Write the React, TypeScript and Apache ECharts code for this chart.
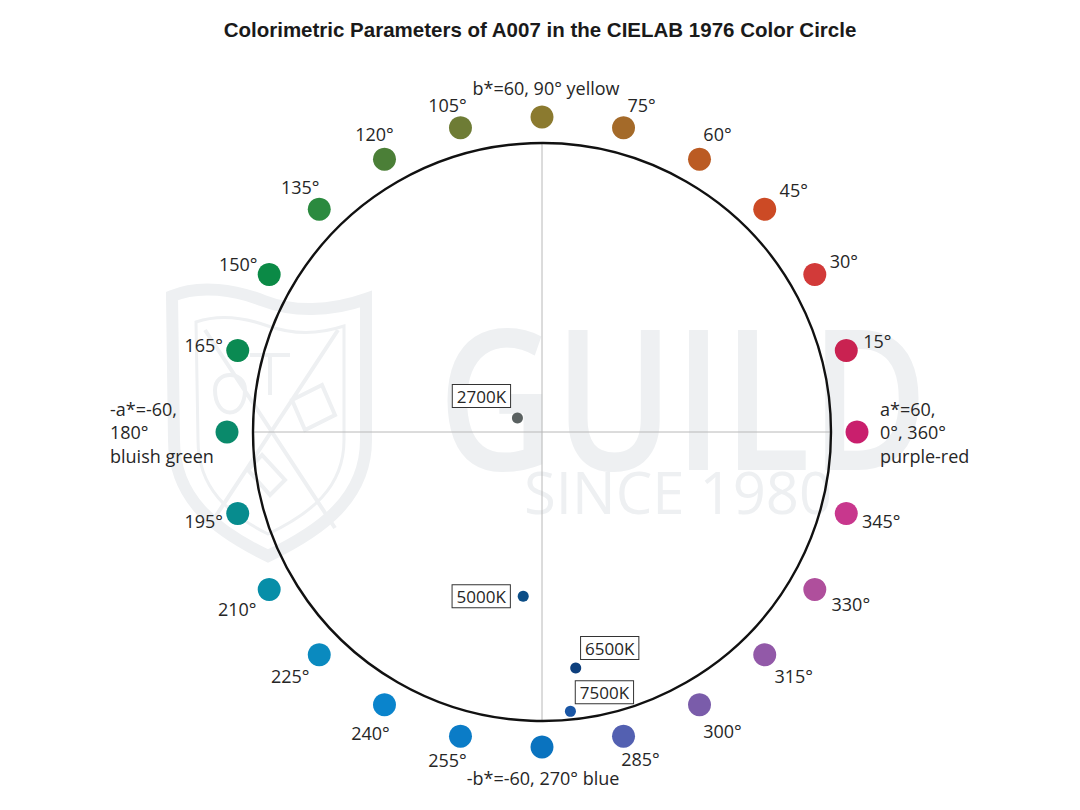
import React, { useEffect, useRef } from 'react';
import * as echarts from 'echarts';

// ---------- data ----------
const titleText = 'Colorimetric Parameters of A007 in the CIELAB 1976 Color Circle';

const hueAngles = [0, 15, 30, 45, 60, 75, 90, 105, 120, 135, 150, 165, 180, 195, 210, 225, 240, 255, 270, 285, 300, 315, 330, 345];
const hueColors = [
  '#c91f6d', '#c92251', '#d23a39', '#cc4a25', '#bb5b23', '#a46a29', '#8b7a2f', '#6e7c35',
  '#4b7f37', '#2b8a3f', '#0b8a46', '#0a8a52', '#0a8a6b', '#078c8e', '#078ea8', '#0a8abf',
  '#0a84cc', '#0b7cc7', '#0a73bf', '#5360b1', '#7a5caa', '#9259a8', '#af4f9c', '#c8378d',
];
const hueLabels = [
  'a*=60,\n0°, 360°\npurple-red', '15°', '30°', '45°', '60°', '75°', 'b*=60, 90° yellow', '105°',
  '120°', '135°', '150°', '165°', '-a*=-60,\n180°\nbluish green', '195°', '210°', '225°',
  '240°', '255°', '-b*=-60, 270° blue', '285°', '300°', '315°', '330°', '345°',
];

const cctNames = ['2700K', '5000K', '6500K', '7500K'];
const cctA = [-5.1, -3.9, 7.0, 5.9];
const cctB = [2.9, -34.1, -49.0, -58.0];
const cctColors = ['#5a6161', '#0b4d86', '#0d3f7d', '#1a56a5'];

const circleValue = 60;

// ---------- layout ----------
const CX = 542;
const CY = 432;
const PX_PER_UNIT = 289 / 60;
const CART_MAX = 75;
const POLAR_MAX = 80;
const DOT_R = 65.4;

// label offsets (px) relative to each hue dot, keyed by angle
const hueLabelLayout: Record<number, any> = {
  0: { offset: [23, 0], align: 'left' },
  15: { offset: [31, -9] },
  30: { offset: [29, -13] },
  45: { offset: [29, -19] },
  60: { offset: [18, -25] },
  75: { offset: [18, -23] },
  90: { offset: [4, -29] },
  105: { offset: [-13, -23] },
  120: { offset: [-10, -25] },
  135: { offset: [-19, -22] },
  150: { offset: [-31, -10] },
  165: { offset: [-34, -5] },
  180: { offset: [-117, 0], align: 'left' },
  195: { offset: [-34, 7] },
  210: { offset: [-32, 19] },
  225: { offset: [-29, 21] },
  240: { offset: [-14, 28] },
  255: { offset: [-13, 24] },
  270: { offset: [1, 31] },
  285: { offset: [17, 23] },
  300: { offset: [23, 26] },
  315: { offset: [29, 21] },
  330: { offset: [36, 14] },
  345: { offset: [35, 7] },
};

const cctLabelOffsets: Record<string, [number, number]> = {
  '2700K': [-36, -22],
  '5000K': [-42, 0],
  '6500K': [34, -20],
  '7500K': [34, -19],
};

const shieldOuter = 'M172 296 C 200 284, 236 290, 264 301 C 292 312, 330 312, 366 299 L 366 440 C 366 498, 322 530, 268 556 C 214 530, 174 498, 174 440 Z';
const shieldInner = 'M196 322 C 220 314, 246 318, 268 326 C 294 335, 320 334, 344 326 L 344 440 C 344 488, 310 514, 268 534 C 228 514, 198 488, 198 440 Z';
const shieldCross = 'M205 330 L 335 528 M 338 330 L 208 528 M 250 355 L 290 355 M 270 355 L 270 395 M 215 390 C 215 370, 245 370, 245 390 C 245 420, 215 420, 215 390 Z M 292 400 L 322 385 L 335 415 L 305 430 Z M 248 470 L 262 455 L 285 480 L 270 495 Z';

echarts.graphic.registerShape('shieldOuter', echarts.graphic.extendPath(shieldOuter, {}));
echarts.graphic.registerShape('shieldInner', echarts.graphic.extendPath(shieldInner, {}));
echarts.graphic.registerShape('shieldCross', echarts.graphic.extendPath(shieldCross, {}));

export default function App() {
  const ref = useRef<HTMLDivElement>(null);

  useEffect(() => {
    if (!ref.current) return;
    const chart = echarts.init(ref.current, null, { renderer: 'svg' });
    const wm = '#eef0f2';
    const half = CART_MAX * PX_PER_UNIT;
    const polarR = POLAR_MAX * PX_PER_UNIT;

    const option: any = {
      animation: false,
      backgroundColor: '#ffffff',
      title: {
        text: titleText,
        left: 'center',
        top: 14,
        textStyle: {
          fontFamily: 'Liberation Sans',
          fontWeight: 'bold',
          fontSize: 20.5,
          color: '#1a1a1a',
        },
      },
      graphic: [
        { type: 'shieldOuter', z: -10, silent: true, style: { fill: 'none', stroke: wm, lineWidth: 12 } },
        { type: 'shieldInner', z: -10, silent: true, style: { fill: 'none', stroke: wm, lineWidth: 3 } },
        { type: 'shieldCross', z: -10, silent: true, style: { fill: 'none', stroke: wm, lineWidth: 4 } },
        {
          type: 'text', z: -10, silent: true, x: 438, y: 296, scaleX: 0.82,
          style: { text: 'GUILD', font: '600 196px "Open Sans"', fill: wm, verticalAlign: 'top' },
        },
        {
          type: 'text', z: -10, silent: true, x: 524, y: 462,
          style: { text: 'SINCE 1980', font: '400 58px "Open Sans"', fill: wm, verticalAlign: 'top' },
        },
      ],
      grid: { left: CX - half, top: CY - half, width: half * 2, height: half * 2, containLabel: false, outerBoundsMode: 'none' },
      xAxis: { type: 'value', min: -CART_MAX, max: CART_MAX, show: false },
      yAxis: { type: 'value', min: -CART_MAX, max: CART_MAX, show: false },
      polar: { center: [CX, CY], radius: polarR },
      radiusAxis: { type: 'value', min: 0, max: POLAR_MAX, show: false },
      angleAxis: { type: 'value', min: 0, max: 360, startAngle: 0, clockwise: false, show: false },
      series: [
        {
          type: 'custom',
          coordinateSystem: 'cartesian2d',
          silent: true,
          z: 1,
          data: [[0, 0]],
          renderItem: (_p: any, api: any) => {
            const c = api.coord([0, 0]);
            const l = api.coord([-circleValue, 0]);
            const r = api.coord([circleValue, 0]);
            const t = api.coord([0, circleValue]);
            const b = api.coord([0, -circleValue]);
            const rad = r[0] - c[0];
            return {
              type: 'group',
              children: [
                { type: 'line', shape: { x1: l[0], y1: l[1], x2: r[0], y2: r[1] }, style: { stroke: '#b8b8b8', lineWidth: 1 } },
                { type: 'line', shape: { x1: t[0], y1: t[1], x2: b[0], y2: b[1] }, style: { stroke: '#b8b8b8', lineWidth: 1 } },
                { type: 'circle', shape: { cx: c[0], cy: c[1], r: rad }, style: { fill: 'none', stroke: '#111111', lineWidth: 2.4 } },
              ],
            };
          },
        },
        {
          type: 'scatter',
          coordinateSystem: 'polar',
          symbol: 'circle',
          symbolSize: 23,
          silent: true,
          itemStyle: { opacity: 1 },
          label: {
            show: true,
            position: 'inside',
            formatter: (p: any) => p.name,
            fontFamily: 'Open Sans',
            fontSize: 18,
            lineHeight: 23.5,
            color: '#262626',
            opacity: 1,
          },
          data: hueAngles.map((a, i) => ({
            name: hueLabels[i],
            value: [DOT_R, a],
            itemStyle: { color: hueColors[i], opacity: 1 },
            label: hueLabelLayout[a] || {},
          })),
        },
        {
          type: 'scatter',
          coordinateSystem: 'cartesian2d',
          symbol: 'circle',
          symbolSize: 11,
          silent: true,
          z: 3,
          itemStyle: { opacity: 1 },
          label: {
            show: true,
            position: 'inside',
            formatter: '{b}',
            fontFamily: 'Open Sans',
            fontSize: 17,
            color: '#262626',
            opacity: 1,
            backgroundColor: '#ffffff',
            borderColor: '#333333',
            borderWidth: 1,
            padding: [3, 4, 2, 4],
          },
          data: cctNames.map((n, i) => ({
            name: n,
            value: [cctA[i], cctB[i]],
            itemStyle: { color: cctColors[i], opacity: 1 },
            label: { offset: cctLabelOffsets[n] },
          })),
        },
      ],
    };
    chart.setOption(option);
    return () => chart.dispose();
  }, []);

  return <div ref={ref} style={{ position: 'fixed', left: 0, top: 0, width: 1080, height: 810 }} />;
}
